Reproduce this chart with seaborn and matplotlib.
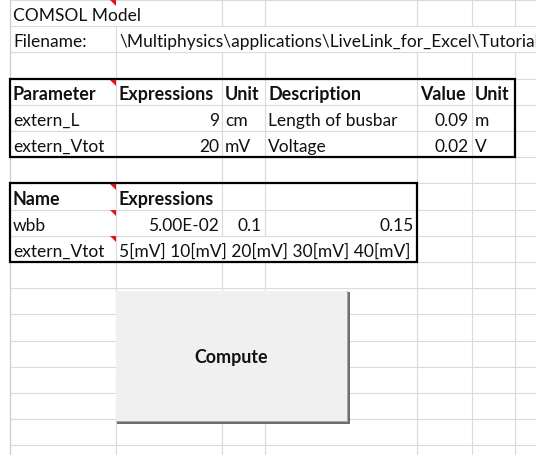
import matplotlib
matplotlib.use("Agg")
import matplotlib.pyplot as plt
import seaborn as sns
from matplotlib.patches import Rectangle, Polygon

# ---- data (cell contents) ----
title_text = "COMSOL Model"
filename_label = "Filename:"
filename_path = "\\Multiphysics\\applications\\LiveLink_for_Excel\\Tutorials\\busbar_llexcel.mph"

param_headers = ["Parameter", "Expressions", "Unit", "Description", "Value", "Unit"]
param_names = ["extern_L", "extern_Vtot"]
param_expr = ["9", "20"]
param_units = ["cm", "mV"]
param_desc = ["Length of busbar", "Voltage"]
param_values = ["0.09", "0.02"]
param_si_units = ["m", "V"]

sweep_headers = ["Name", "Expressions"]
sweep_names = ["wbb", "extern_Vtot"]
wbb_values = ["5.00E-02", "0.1", "0.15"]
vtot_values = "5[mV] 10[mV] 20[mV] 30[mV] 40[mV]"
button_label = "Compute"

# ---- layout ----
col_edges = [10, 116, 222, 265, 417, 472, 515, 545]
row_h = 26.2
row_edges = [1 + row_h * k for k in range(19)]
# vertical grid segments hidden by overflowing text: (column edge index, row)
hidden = {(1, 0), (2, 1), (3, 1), (4, 1), (5, 1), (6, 1), (2, 9), (3, 9)}

sns.set_theme(style="white")
plt.rcParams['font.family'] = ['Lato', 'DejaVu Sans']

W, H = 536, 456
fig = plt.figure(figsize=(W / 100, H / 100), dpi=100)
ax = fig.add_axes([0, 0, 1, 1])
ax.set_xlim(0, W)
ax.set_ylim(H, 0)
ax.axis('off')

grid_c = "#DADADA"
ax.vlines(10, 0, H, color="#C8C8C8", lw=0.8, zorder=1)
for ci, x in enumerate(col_edges):
    if ci == 0:
        continue
    for r in range(len(row_edges) - 1):
        if (ci, r) in hidden:
            continue
        y0 = 0 if r == 0 else row_edges[r]
        ax.vlines(x, y0, row_edges[r + 1], color=grid_c, lw=0.8, zorder=1)
ax.vlines(col_edges[1:], row_edges[-1], H, color=grid_c, lw=0.8, zorder=1)
for y in row_edges:
    ax.hlines(y, 10, W, color=grid_c, lw=0.8, zorder=1)

FS = 12.5
FS_BOLD = 12.9


def bottom(r):
    return row_edges[r + 1] - 6


def put(col, row, text, align="left", bold=False):
    if align == "left":
        x = col_edges[col] + 3
    else:
        x = col_edges[col + 1] - 3
    ax.text(x, bottom(row), text, ha=align, va="baseline",
            fontsize=FS_BOLD if bold else FS,
            fontweight="bold" if bold else "normal", color="#111111",
            zorder=3, clip_on=True)


put(0, 0, title_text)
put(0, 1, filename_label)
put(1, 1, filename_path)

for i, h in enumerate(param_headers):
    put(i, 3, h, bold=True)
for j in range(len(param_names)):
    r = 4 + j
    put(0, r, param_names[j])
    put(1, r, param_expr[j], align="right")
    put(2, r, param_units[j])
    put(3, r, param_desc[j])
    put(4, r, param_values[j], align="right")
    put(5, r, param_si_units[j])

for i, h in enumerate(sweep_headers):
    put(i, 7, h, bold=True)
put(0, 8, sweep_names[0])
for i, v in enumerate(wbb_values):
    put(1 + i, 8, v, align="right")
put(0, 9, sweep_names[1])
put(1, 9, vtot_values)

# thick borders
for (c0, c1, r0, r1) in [(0, 6, 3, 6), (0, 4, 7, 10)]:
    x0, x1 = col_edges[c0], col_edges[c1]
    y0, y1 = row_edges[r0], row_edges[r1]
    ax.add_patch(Rectangle((x0, y0), x1 - x0, y1 - y0, fill=False,
                           ec="black", lw=1.6, zorder=4))

# comment indicators
for (c, r) in [(0, 0), (0, 3), (0, 7), (0, 8), (0, 9)]:
    xr = col_edges[c + 1]
    yt = row_edges[r] + (1 if r in (3, 7) else 0)
    ax.add_patch(Polygon([(xr - 6, yt), (xr, yt), (xr, yt + 6)], closed=True,
                         fc="#E8101A", ec="none", zorder=5))

# button
bx0, by0, bx1, by1 = 116, 292, 347, 422
ax.add_patch(Rectangle((bx0 + 1, by0 + 1), bx1 - bx0 + 2, by1 - by0 + 2,
                       fc="#6E6E6E", ec="none", zorder=6))
ax.add_patch(Rectangle((bx0, by0), bx1 - bx0 + 1, by1 - by0 + 1,
                       fc="#A8A8A8", ec="none", zorder=6))
ax.add_patch(Rectangle((bx0, by0), bx1 - bx0, by1 - by0,
                       fc="#F0F0F0", ec="none", zorder=7))
ax.text((bx0 + bx1) / 2, (by0 + by1) / 2 + 1, button_label, ha="center",
        va="center", fontsize=FS_BOLD, fontweight="bold", color="#111111", zorder=8)

fig.savefig("out.png", dpi=100, facecolor="white")
